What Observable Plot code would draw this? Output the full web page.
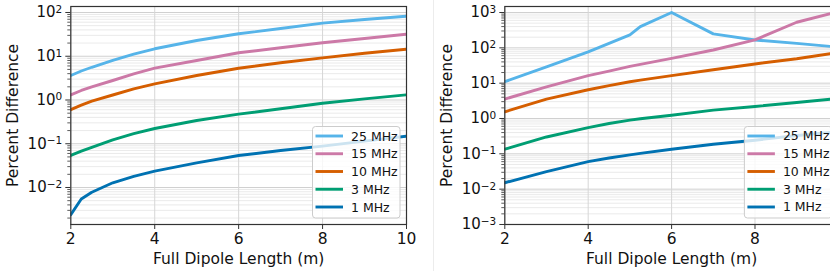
<!DOCTYPE html>
<html><head><meta charset="utf-8">
<script src="https://cdn.jsdelivr.net/npm/d3@7"></script>
<script src="https://cdn.jsdelivr.net/npm/@observablehq/plot@0.6"></script>
<style>
html,body{margin:0;padding:0;background:#fff;}
#wrap{position:relative;width:830px;height:271px;overflow:hidden;background:#fff;}
#left{position:absolute;left:0;top:0;width:432px;height:271px;}
#right{position:absolute;left:434px;top:0;width:430px;height:271px;}
#sep{position:absolute;left:433px;top:0;width:1px;height:271px;background:#ececec;}
svg{max-width:none !important;}
</style></head><body>
<div id="wrap"><div id="left"></div><div id="sep"></div><div id="right"></div></div>
<script>
const series = ["25 MHz", "15 MHz", "10 MHz", "3 MHz", "1 MHz"];
const colors = ["#56B4E9", "#CC79A7", "#D55E00", "#009E73", "#0072B2"];
const xTicks = [2, 4, 6, 8, 10];
const xLabel = "Full Dipole Length (m)";
const yLabel = "Percent Difference";

// Left panel
const leftX = [2, 2.25, 2.5, 3, 3.5, 4, 5, 6, 7, 8, 9, 10];
const left25 = [3.63, 4.6, 5.6, 8.0, 11.2, 14.8, 22.9, 32.6, 43, 57, 69, 82];
const left15 = [1.31, 1.65, 2.0, 2.79, 3.95, 5.33, 8.0, 12.0, 15.6, 20.3, 25.5, 31.9];
const left10 = [0.60, 0.76, 0.94, 1.3, 1.8, 2.34, 3.63, 5.33, 7.1, 9.2, 11.7, 14.5];
const left3 = [0.054, 0.068, 0.083, 0.123, 0.17, 0.223, 0.34, 0.474, 0.63, 0.845, 1.06, 1.31];
const left1 = [0.00238, 0.00546, 0.0078, 0.0128, 0.018, 0.0236, 0.0366, 0.0538, 0.070, 0.088, 0.115, 0.149];

// Right panel
const rightX = [2, 3, 4, 4.5, 5, 5.25, 6, 7, 8, 9, 10];
const right25 = [11, 28.7, 77, 134, 232, 400, 1000, 248, 167, 134, 105];
const right15 = [3.55, 7.9, 16.3, 22, 29.9, 34, 50.4, 87, 168, 531, 1050];
const right10 = [1.55, 3.55, 6.5, 8.5, 11, 12.2, 16.3, 24, 35, 49, 74];
const right3 = [0.135, 0.30, 0.553, 0.72, 0.90, 0.98, 1.24, 1.73, 2.19, 2.84, 3.7];
const right1 = [0.0152, 0.0312, 0.060, 0.076, 0.093, 0.103, 0.135, 0.187, 0.243, 0.33, 0.42];

const ML = 70.3, MR = 26, MT = 6, MB = 47, H = 271;

function panel(xs, table, yDomain, decRange, width, labelTicks) {
  const rows = [];
  series.forEach((s, i) => xs.forEach((x, j) => rows.push({x, y: table[i][j], s})));
  const majors = d3.range(decRange[0], decRange[1] + 1).map(e => Math.pow(10, e));
  const minors = [];
  for (let e = decRange[0] - 1; e <= decRange[1]; e++)
    for (let k = 2; k <= 9; k++) {
      const v = k * Math.pow(10, e);
      if (v >= yDomain[0] && v <= yDomain[1]) minors.push(v);
    }
  const svg = Plot.plot({
    width, height: H,
    marginLeft: ML, marginRight: MR, marginTop: MT, marginBottom: MB,
    style: {fontFamily: "DejaVu Sans, sans-serif", fontSize: "15px", color: "#111", background: "transparent", overflow: "visible"},
    x: {domain: [2, 10]},
    y: {type: "log", domain: yDomain},
    color: {domain: series, range: colors},
    marks: [
      Plot.gridY(minors, {stroke: "#e4e4e4", strokeOpacity: 1, strokeWidth: 0.8}),
      Plot.gridY(majors, {stroke: "#d0d0d0", strokeOpacity: 1, strokeWidth: 1}),
      Plot.gridX(xTicks, {stroke: "#d6d6d6", strokeOpacity: 1, strokeWidth: 1}),
      Plot.line(rows, {x: "x", y: "y", stroke: "s", z: "s", strokeWidth: 2.9, clip: true}),
      Plot.frame({stroke: "#333", strokeWidth: 1.2}),
      Plot.axisY(minors, {tickSize: 3, fill: "none", stroke: "#333", strokeWidth: 0.8, label: null}),
      Plot.axisY(majors, {tickSize: 5, tickPadding: 3.6, stroke: "#333", fill: "#111", fontSize: 15, label: null,
        tickFormat: d => "10^" + Math.round(Math.log10(d))}),
      Plot.axisX(xTicks, {tickSize: 5, stroke: "#333", fill: "none", label: null}),
      Plot.axisX(labelTicks, {tickSize: 0, tickPadding: 8.6, fill: "#111", fontSize: 15.5, label: null, tickFormat: d => String(d)}),
      Plot.text([yLabel], {text: d => d, frameAnchor: "left", rotate: -90, dx: -57.5, textAnchor: "middle", lineAnchor: "middle", fontSize: 15.5, fill: "#111"}),
      Plot.text([xLabel], {text: d => d, frameAnchor: "bottom", dy: 35, textAnchor: "middle", lineAnchor: "middle", fontSize: 15.5, fill: "#111"})
    ]
  });
  // superscript exponents
  d3.select(svg).selectAll("text").each(function () {
    const t = this.textContent;
    const m = t.match(/^10\^(-?\d+)$/);
    if (m) {
      this.textContent = "10";
      d3.select(this).append("tspan").attr("dy", "-0.42em").attr("font-size", "0.7em")
        .text(m[1].replace("-", "\u2212"));
    }
  });
  // legend
  const pr = width - MR;
  const g = d3.select(svg).append("g").attr("font-family", "DejaVu Sans, sans-serif").attr("text-anchor", "start");
  const bx = pr - 93.5, by = 126.5;
  g.append("rect").attr("x", bx).attr("y", by).attr("width", 87.5).attr("height", 91.5)
    .attr("rx", 3).attr("fill", "white").attr("fill-opacity", 0.8).attr("stroke", "#cccccc").attr("stroke-width", 1);
  series.forEach((s, i) => {
    const cy = 136 + i * 17.75;
    g.append("line").attr("x1", bx + 3).attr("x2", bx + 30.5).attr("y1", cy).attr("y2", cy)
      .attr("stroke", colors[i]).attr("stroke-width", 2.9);
    g.append("text").attr("x", bx + 38.5).attr("y", cy).attr("dy", "0.36em").attr("text-anchor", "start")
      .attr("font-size", 12.5).attr("fill", "#111").text(s);
  });
  return svg;
}

document.getElementById("left").appendChild(
  panel(leftX, [left25, left15, left10, left3, left1], [Math.pow(10, -2.846), Math.pow(10, 2.137)], [-2, 2], 432, xTicks));
document.getElementById("right").appendChild(
  panel(rightX, [right25, right15, right10, right3, right1], [1e-3, Math.pow(10, 3.17)], [-3, 3], 429.9, xTicks.slice(0, 4)));
</script>
</body></html>
